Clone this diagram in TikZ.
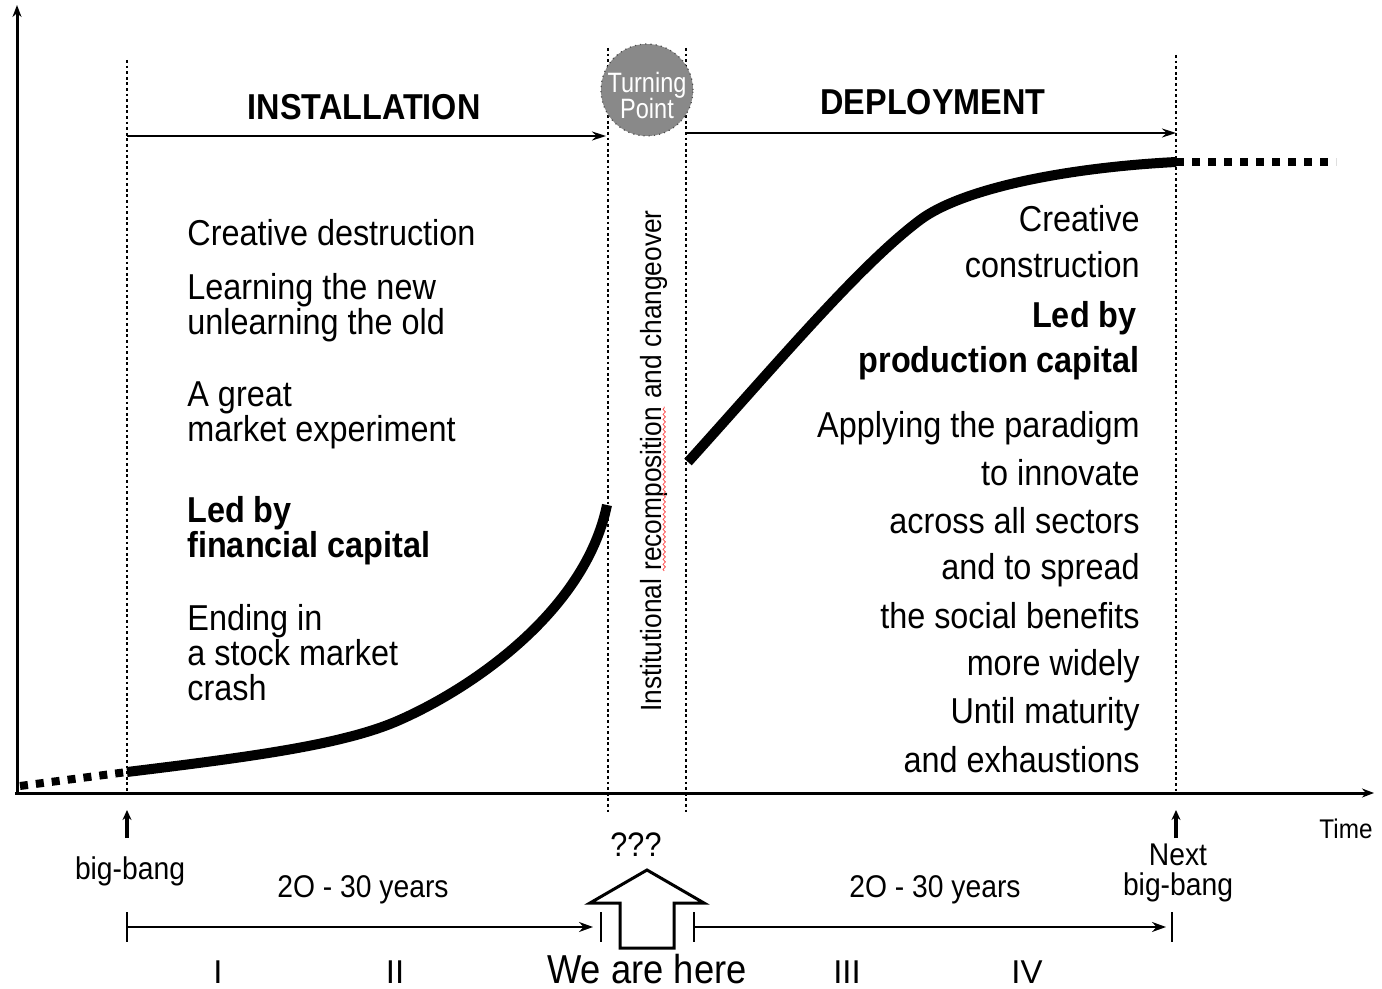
\documentclass[tikz,border=0pt]{standalone}
\usepackage{fontspec}
\setmainfont[FakeStretch=0.9]{Liberation Sans}
\newfontfamily\widefont{Liberation Sans}
\newfontfamily\narrowfont[FakeStretch=0.84]{Liberation Sans}
\usetikzlibrary{arrows.meta,decorations.pathmorphing}
\definecolor{tpgray}{HTML}{898989}
\begin{document}
\begin{tikzpicture}[x=0.5pt,y=-0.5pt,
  txt/.style={inner sep=0pt, font=\fontsize{18}{18}\selectfont},
  btxt/.style={inner sep=0pt, font=\fontsize{18}{18}\selectfont\bfseries},
  small/.style={inner sep=0pt, font=\fontsize{15.7}{16}\selectfont},
  vtxt/.style={inner sep=0pt, rotate=90, font=\fontsize{14.6}{15}\selectfont},
  roman/.style={inner sep=0pt, font=\widefont\fontsize{16.5}{17}\selectfont},
  tptxt/.style={inner sep=0pt, anchor=base, text=white, font=\narrowfont\fontsize{14}{14}\selectfont},
  axis/.style={line width=1.5pt, -{Stealth[length=6pt,width=4.5pt]}},
  phase/.style={line width=0.9pt, -{Stealth[length=7pt,width=4.5pt]}},
  span/.style={line width=1pt, -{Stealth[length=7pt,width=5pt]}},
  tick/.style={line width=0.6pt},
  vdots/.style={line width=1.4pt, dash pattern=on 1.4pt off 1.4pt},
  bigdots/.style={line width=4pt, dash pattern=on 4pt off 4pt},
  wave/.style={line width=5pt},
  bang/.style={line width=1.8pt, -{Stealth[length=5pt,width=4.5pt]}},
  squig/.style={red!70, line width=0.4pt, decorate, decoration={snake, amplitude=0.6pt, segment length=2.5pt}}]
\useasboundingbox (0,0) rectangle (1382,989);

% axes
\coordinate (O) at (17,793);
\coordinate (ytop) at (17,5);
\coordinate (xend) at (1374,793);
\draw[axis] (O) -- (ytop);
\draw[axis] (15,793) -- (xend);

% vertical dotted lines
\coordinate (a1) at (127,60);  \coordinate (a2) at (127,793);
\coordinate (b1) at (608,48);  \coordinate (b2) at (608,815);
\coordinate (c1) at (686,48);  \coordinate (c2) at (686,815);
\coordinate (d1) at (1176,55); \coordinate (d2) at (1176,793);
\draw[vdots] (a1) -- (a2);
\draw[vdots] (b1) -- (b2);
\draw[vdots] (c1) -- (c2);
\draw[vdots] (d1) -- (d2);

% turning point
\node[circle, fill=tpgray, draw=black!70, dotted, line width=0.6pt, minimum size=46pt, inner sep=0pt] (tp) at (647,90) {};
\node[tptxt] (tp1) at (647,93) {Turning};
\node[tptxt] (tp2) at (647,119) {Point};

% phase titles and arrows
\node[btxt, anchor=base] (inst) at (364,120) {INSTALLATION};
\node[btxt, anchor=base] (depl) at (933,115) {DEPLOYMENT};
\coordinate (ia) at (127,136); \coordinate (ib) at (606,136);
\coordinate (da) at (686,133); \coordinate (db) at (1176,133);
\draw[phase] (ia) -- (ib);
\draw[phase] (da) -- (db);

% curves
\coordinate (l0) at (127,772);
\coordinate (lk) at (395,722);
\coordinate (lend) at (607,505);
\coordinate (r0) at (688,462);
\coordinate (rk) at (920,220);
\coordinate (rend) at (1176,162);
\draw[bigdots] (20,786) -- (l0);
\draw[wave] (l0) .. controls (250,757) and (340,745) .. (lk)
            .. controls (470,690) and (585,612) .. (lend);
\draw[wave] (r0) .. controls (780,360) and (860,265) .. (rk)
            .. controls (960,190) and (1060,168) .. (rend);
\draw[bigdots] (rend) -- (1336,162);

% left text
\node[txt, anchor=base west] (L1) at (187,246) {Creative destruction};
\node[txt, anchor=base west] (L2) at (187,300) {Learning the new};
\node[txt, anchor=base west] (L3) at (187,335) {unlearning the old};
\node[txt, anchor=base west] (L4) at (187,407) {A great};
\node[txt, anchor=base west] (L5) at (187,442) {market experiment};
\node[btxt, anchor=base west] (L6) at (187,523) {Led by};
\node[btxt, anchor=base west] (L7) at (187,558) {financial capital};
\node[txt, anchor=base west] (L8) at (187,630) {Ending in};
\node[txt, anchor=base west] (L9) at (187,665) {a stock market};
\node[txt, anchor=base west] (L10) at (187,700) {crash};

% right text
\node[txt, anchor=base east] (R1) at (1140,232) {Creative};
\node[txt, anchor=base east] (R2) at (1140,278) {construction};
\node[btxt, anchor=base east] (R3) at (1137,328) {Led by};
\node[btxt, anchor=base east] (R4) at (1140,373) {production capital};
\node[txt, anchor=base east] (R5) at (1140,438) {Applying the paradigm};
\node[txt, anchor=base east] (R6) at (1140,486) {to innovate};
\node[txt, anchor=base east] (R7) at (1140,533) {across all sectors};
\node[txt, anchor=base east] (R8) at (1140,580) {and to spread};
\node[txt, anchor=base east] (R9) at (1140,628) {the social benefits};
\node[txt, anchor=base east] (R10) at (1140,675) {more widely};
\node[txt, anchor=base east] (R11) at (1140,723) {Until maturity};
\node[txt, anchor=base east] (R12) at (1140,772) {and exhaustions};

% vertical text
\node[vtxt, anchor=base west] (v1) at (661,712) {Institutional\kern0.25em};
\node[vtxt, anchor=base west] (v2) at (v1.base east) {recomposition};
\node[vtxt, anchor=base west] (v3) at (v2.base east) {\kern0.25em and changeover};
\draw[squig] ([xshift=1.6pt]v2.base west) -- ([xshift=1.6pt]v2.base east);

% bottom labels
\coordinate (bb1) at (127,838); \coordinate (bb2) at (127,810);
\coordinate (nb1) at (1176,838); \coordinate (nb2) at (1176,810);
\draw[bang] (bb1) -- (bb2);
\draw[bang] (nb1) -- (nb2);
\node[small, anchor=base] (bigbang) at (130,879) {big-bang};
\node[small, anchor=base] (next) at (1178,865) {Next};
\node[small, anchor=base] (nextbb) at (1178,895) {big-bang};
\node[inner sep=0pt, anchor=base, font=\fontsize{17}{17}\selectfont] (qqq) at (636,856) {???};
\node[inner sep=0pt, anchor=base, font=\fontsize{13.5}{14}\selectfont] (time) at (1346,838) {Time};
\node[small, anchor=base] (y1) at (363,897) {2O - 30 years};
\node[small, anchor=base] (y2) at (935,897) {2O - 30 years};

% span arrows
\coordinate (s1a) at (127,927); \coordinate (s1b) at (593,927);
\coordinate (s2a) at (694,927); \coordinate (s2b) at (1166,927);
\draw[span] (s1a) -- (s1b);
\draw[span] (s2a) -- (s2b);
\draw[tick] (127,912) -- (127,942);
\draw[tick] (601,912) -- (601,942);
\draw[tick] (694,912) -- (694,942);
\draw[tick] (1172,912) -- (1172,942);

% we are here block arrow
\draw[line width=1.5pt, fill=white, line join=miter] (620,948) -- (620,903) -- (590,903) -- (647,870) -- (704,903) -- (674,903) -- (674,948) -- cycle;
\node[inner sep=0pt, anchor=base, font=\fontsize{20.2}{21}\selectfont] (here) at (647,983) {We are here};

% roman numerals
\node[roman, anchor=base] (n1) at (218,983) {I};
\node[roman, anchor=base] (n2) at (395,983) {II};
\node[roman, anchor=base] (n3) at (847,983) {III};
\node[roman, anchor=base] (n4) at (1027,983) {IV};
\end{tikzpicture}
\end{document}
